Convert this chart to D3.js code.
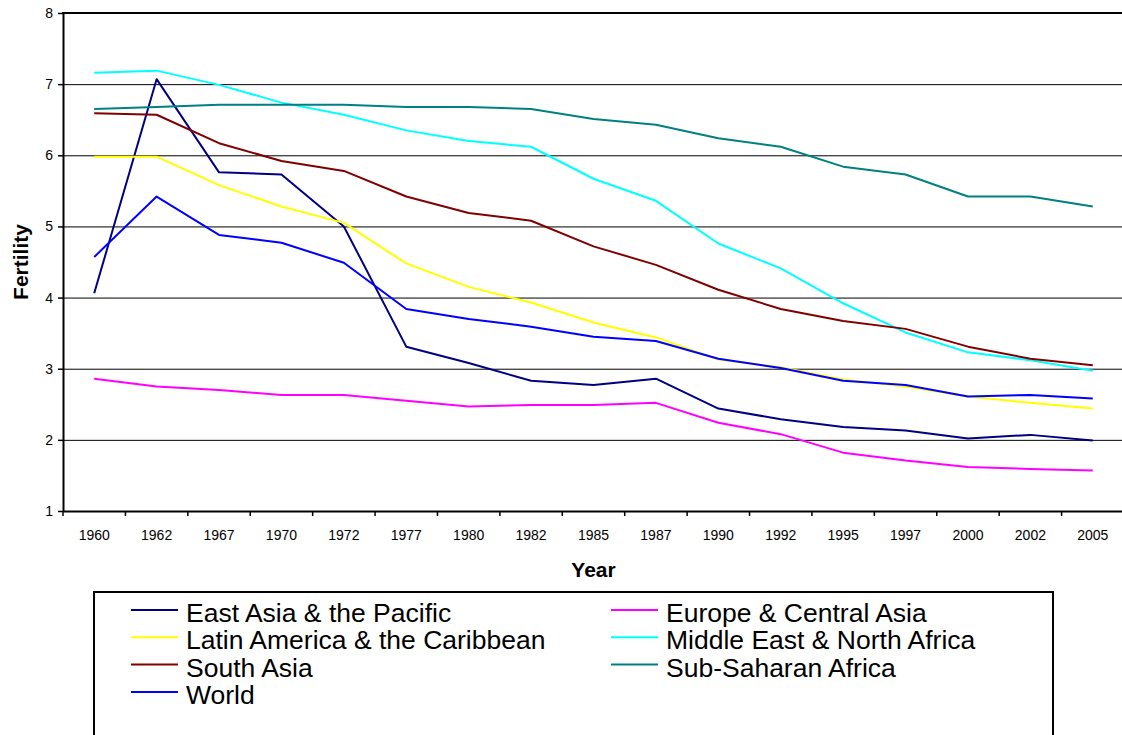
<!DOCTYPE html>
<html lang="en">
  <head>
    <meta charset="utf-8">
    <title>Fertility by region</title>
    <style>
      body, html { margin:0; padding:0; background:#fff; }
      svg { display:block; font-family:"Liberation Sans", Arial, sans-serif; }
      .grid line { stroke:#000; stroke-width:1; }
      .grid path { display:none; }
    </style>
    <script src="https://cdn.jsdelivr.net/npm/d3@7"></script>
  </head>
  <body>
    <svg id="chart" width="1122" height="735"></svg>
    <script>
var years = ['1960','1962','1967','1970','1972','1977','1980','1982','1985','1987','1990','1992','1995','1997','2000','2002','2005'];
var seriesNames = ['East Asia & the Pacific', 'Europe & Central Asia', 'Latin America & the Caribbean',
                   'Middle East & North Africa', 'South Asia', 'Sub-Saharan Africa', 'World'];
var seriesColors = ['#000080', '#ff00ff', '#ffff00', '#00ffff', '#800000', '#008080', '#0000ff'];

var eastAsia    = [4.06, 7.07, 5.76, 5.73, 5.00, 3.31, 3.08, 2.83, 2.77, 2.86, 2.44, 2.29, 2.18, 2.13, 2.02, 2.07, 1.99];
var europe      = [2.86, 2.75, 2.70, 2.63, 2.63, 2.55, 2.47, 2.49, 2.49, 2.52, 2.24, 2.08, 1.82, 1.71, 1.62, 1.59, 1.57];
var latinAm     = [5.98, 5.98, 5.58, 5.28, 5.05, 4.48, 4.15, 3.93, 3.65, 3.44, 3.13, 3.02, 2.85, 2.75, 2.61, 2.52, 2.44];
var middleEast  = [7.16, 7.19, 6.99, 6.74, 6.57, 6.35, 6.20, 6.12, 5.67, 5.36, 4.76, 4.41, 3.92, 3.51, 3.23, 3.12, 2.97];
var southAsia   = [6.59, 6.57, 6.17, 5.92, 5.78, 5.42, 5.19, 5.08, 4.72, 4.46, 4.11, 3.84, 3.67, 3.56, 3.31, 3.14, 3.05];
var subSaharan  = [6.65, 6.68, 6.71, 6.71, 6.71, 6.68, 6.68, 6.65, 6.51, 6.43, 6.24, 6.12, 5.84, 5.73, 5.42, 5.42, 5.28];
var world       = [4.57, 5.42, 4.88, 4.77, 4.49, 3.84, 3.70, 3.59, 3.45, 3.39, 3.14, 3.01, 2.83, 2.77, 2.61, 2.63, 2.58];
var seriesValues = [eastAsia, europe, latinAm, middleEast, southAsia, subSaharan, world];

var yTicks = [1, 2, 3, 4, 5, 6, 7, 8];

var svg = d3.select('#chart');
// plot area edges (the right edge runs past the picture, as in the original)
var plotLeft = 63, plotRight = 1124, plotTop = 13, plotBottom = 511;

var x = d3.scaleBand().domain(years).range([plotLeft, plotRight]);
var y = d3.scaleLinear().domain([1, 8]).range([plotBottom, plotTop]);

// horizontal gridlines
svg.append('g')
  .attr('class', 'grid')
  .attr('transform', 'translate(' + plotLeft + ',0)')
  .call(d3.axisLeft(y).tickValues(yTicks.slice(1, -1)).tickSize(-(plotRight - plotLeft)).tickFormat(''));

// lines
var line = d3.line()
  .x(function(d, i) { return x(years[i]) + x.bandwidth() / 2; })
  .y(function(d) { return y(d); });

seriesValues.forEach(function(vals, i) {
  svg.append('path')
    .datum(vals)
    .attr('d', line)
    .attr('fill', 'none')
    .attr('stroke', seriesColors[i])
    .attr('stroke-width', 2)
    .attr('stroke-linejoin', 'round');
});

// frame: top border, left and bottom axes
svg.append('line').attr('x1', plotLeft - 1).attr('x2', plotRight).attr('y1', plotTop).attr('y2', plotTop)
  .attr('stroke', '#000').attr('stroke-width', 2);

var yAxis = svg.append('g')
  .attr('transform', 'translate(' + plotLeft + ',0)')
  .call(d3.axisLeft(y).tickValues(yTicks).tickSize(5).tickPadding(5).tickSizeOuter(0).tickFormat(d3.format('d')));
yAxis.select('.domain').attr('stroke-width', 2);
yAxis.selectAll('.tick line').attr('stroke-width', 1.5);
yAxis.selectAll('text').attr('font-size', 14).attr('font-family', null).attr('fill', '#000');

var xAxis = svg.append('g')
  .attr('transform', 'translate(0,' + plotBottom + ')')
  .call(d3.axisBottom(x).tickSize(0).tickPadding(19).tickSizeOuter(0));
xAxis.select('.domain').attr('stroke-width', 2);
xAxis.selectAll('text').attr('font-size', 14).attr('font-family', null).attr('fill', '#000');

// tick marks on the category boundaries
xAxis.selectAll('.bound')
  .data(years)
  .enter().append('line')
  .attr('class', 'bound')
  .attr('x1', function(d) { return x(d); })
  .attr('x2', function(d) { return x(d); })
  .attr('y1', 0).attr('y2', 5)
  .attr('stroke', '#000').attr('stroke-width', 1.5);

// axis titles
svg.append('text')
  .attr('x', (plotLeft + plotRight) / 2).attr('y', 577)
  .attr('text-anchor', 'middle')
  .attr('font-size', 21).attr('font-weight', 'bold')
  .text('Year');

svg.append('text')
  .attr('transform', 'translate(28,' + ((plotTop + plotBottom) / 2) + ') rotate(-90)')
  .attr('text-anchor', 'middle')
  .attr('font-size', 21).attr('font-weight', 'bold')
  .text('Fertility');

// legend
svg.append('rect')
  .attr('x', 94).attr('y', 592).attr('width', 959).attr('height', 160)
  .attr('fill', '#fff').attr('stroke', '#000').attr('stroke-width', 2);

var legend = svg.selectAll('.legend')
  .data(seriesNames)
  .enter().append('g')
  .attr('class', 'legend')
  .attr('transform', function(d, i) {
    return 'translate(' + (i % 2 === 0 ? 131 : 611) + ',' + (610 + Math.floor(i / 2) * 27.3) + ')';
  });

legend.append('line')
  .attr('x1', 0).attr('x2', 47).attr('y1', 0).attr('y2', 0)
  .attr('stroke', function(d, i) { return seriesColors[i]; })
  .attr('stroke-width', 2);

legend.append('text')
  .attr('x', 55).attr('y', 12)
  .attr('font-size', 26.5)
  .text(function(d) { return d; });
    </script>
  </body>
</html>
